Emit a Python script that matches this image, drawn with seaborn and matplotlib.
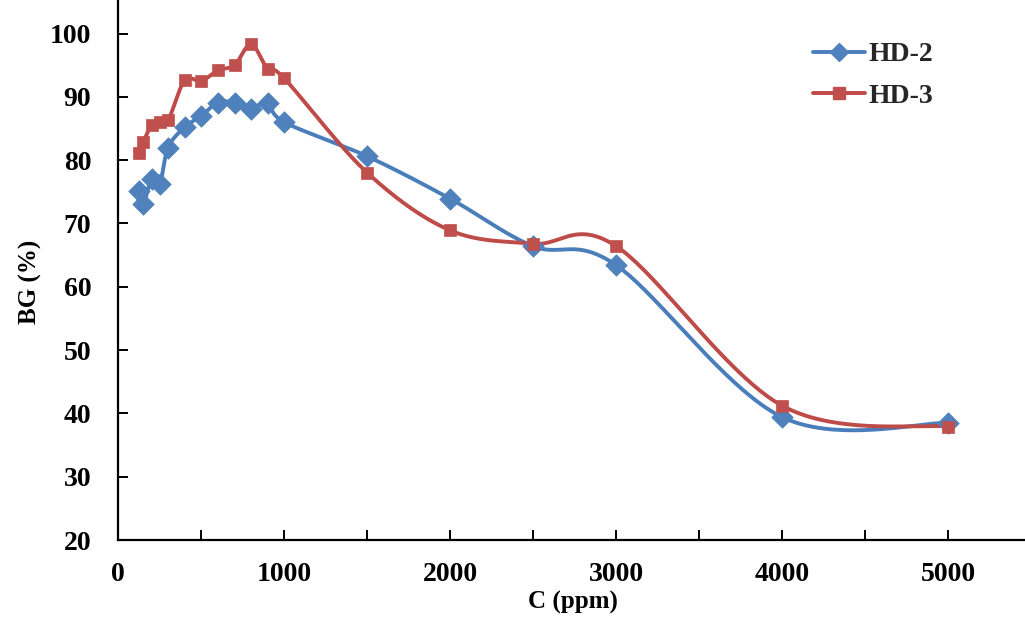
import numpy as np
import pandas as pd
import matplotlib
matplotlib.use("Agg")
import matplotlib.pyplot as plt
from matplotlib.lines import Line2D
from matplotlib.ticker import MultipleLocator
import seaborn as sns

# ---- data ----
conc = [125, 150, 200, 250, 300, 400, 500, 600, 700, 800, 900, 1000,
        1500, 2000, 2500, 3000, 4000, 5000]
hd2 = [75.1, 73.0, 77.0, 76.2, 82.0, 85.2, 87.0, 89.1, 89.1, 88.1, 89.1, 86.0,
       80.6, 73.9, 66.4, 63.4, 39.4, 38.5]
hd3 = [81.1, 82.8, 85.5, 86.0, 86.3, 92.6, 92.5, 94.2, 95.0, 98.3, 94.4, 92.9,
       78.0, 68.9, 66.8, 66.4, 41.2, 37.9]
series_names = ["HD-2", "HD-3"]
x_ticks = [0, 1000, 2000, 3000, 4000, 5000]
y_ticks = [20, 30, 40, 50, 60, 70, 80, 90, 100]

sns.set_theme(style="white")
plt.rcParams["font.family"] = ["Liberation Serif", "DejaVu Serif"]
plt.rcParams["font.weight"] = "bold"

blue_line, blue_mk = "#4A7EBB", "#4F81BD"
red_line, red_mk = "#BE4B48", "#C0504D"


def smooth(xs, ys, n=40):
    """Excel-style smoothed line: cubic Bezier (Catmull-Rom, 1/6 tangents)."""
    P = np.column_stack([xs, ys]).astype(float)
    m = len(P)
    out = []
    for i in range(m - 1):
        p0 = P[i - 1] if i > 0 else P[i]
        p1, p2 = P[i], P[i + 1]
        p3 = P[i + 2] if i + 2 < m else P[i + 1]
        c1 = p1 + (p2 - p0) / 6.0
        c2 = p2 - (p3 - p1) / 6.0
        t = np.linspace(0, 1, n, endpoint=(i == m - 2))[:, None]
        seg = ((1 - t) ** 3) * p1 + 3 * ((1 - t) ** 2) * t * c1 + 3 * (1 - t) * t ** 2 * c2 + t ** 3 * p2
        out.append(seg)
    out = np.vstack(out)
    return out[:, 0], out[:, 1]


fig = plt.figure(figsize=(10.25, 6.34), dpi=100)
ax = fig.add_axes([118.3 / 1025, 94 / 634, (1025 - 118.3) / 1025, 540 / 634])

for vals, lc, mc, mk, ms in [(hd2, blue_line, blue_mk, "D", 120), (hd3, red_line, red_mk, "s", 85)]:
    sx, sy = smooth(conc, vals)
    sns.lineplot(x=sx, y=sy, ax=ax, color=lc, linewidth=2.8, sort=False,
                 estimator=None, legend=False)
    df = pd.DataFrame({"C": conc, "BG": vals})
    sns.scatterplot(data=df, x="C", y="BG", ax=ax, marker=mk, s=ms, color=mc,
                    edgecolor=mc, linewidth=0.5, legend=False, zorder=3)

ax.set_xlim(0, 5462)
ax.set_ylim(20, 105.3)
ax.set_xticks(x_ticks)
ax.xaxis.set_minor_locator(MultipleLocator(500))
ax.set_yticks(y_ticks)

for s in ["top", "right"]:
    ax.spines[s].set_visible(False)
for s in ["left", "bottom"]:
    ax.spines[s].set_color("black")
    ax.spines[s].set_linewidth(1.6)

ax.tick_params(axis="both", which="both", direction="in", length=7, width=1.4,
               color="black", labelsize=20, labelcolor="black")
ax.tick_params(axis="x", which="both", pad=16, bottom=True)
ax.tick_params(axis="y", pad=19.5, left=True)
for lab in ax.get_xticklabels() + ax.get_yticklabels():
    lab.set_fontweight("bold")

ax.set_xlabel("C (ppm)", fontsize=18, fontweight="bold", color="black")
ax.set_ylabel("BG (%)", fontsize=18, fontweight="bold", color="black")
ax.xaxis.set_label_coords(0.5015, -0.0945)
ax.yaxis.set_label_coords(-0.084, 0.478)

handles = [
    Line2D([], [], color=blue_line, lw=2.8, marker="D", markersize=9,
           markerfacecolor=blue_mk, markeredgecolor=blue_mk),
    Line2D([], [], color=red_line, lw=2.8, marker="s", markersize=8.5,
           markerfacecolor=red_mk, markeredgecolor=red_mk),
]
leg = fig.legend(handles, series_names, loc="upper left",
                 bbox_to_anchor=(813 / 1025, 1 - 42 / 634), frameon=False,
                 prop={"family": "Liberation Serif", "weight": "bold", "size": 20},
                 handlelength=1.87, handletextpad=0.12, labelspacing=0.58,
                 borderpad=0, borderaxespad=0)

fig.savefig("out.png", dpi=100, facecolor="white")
